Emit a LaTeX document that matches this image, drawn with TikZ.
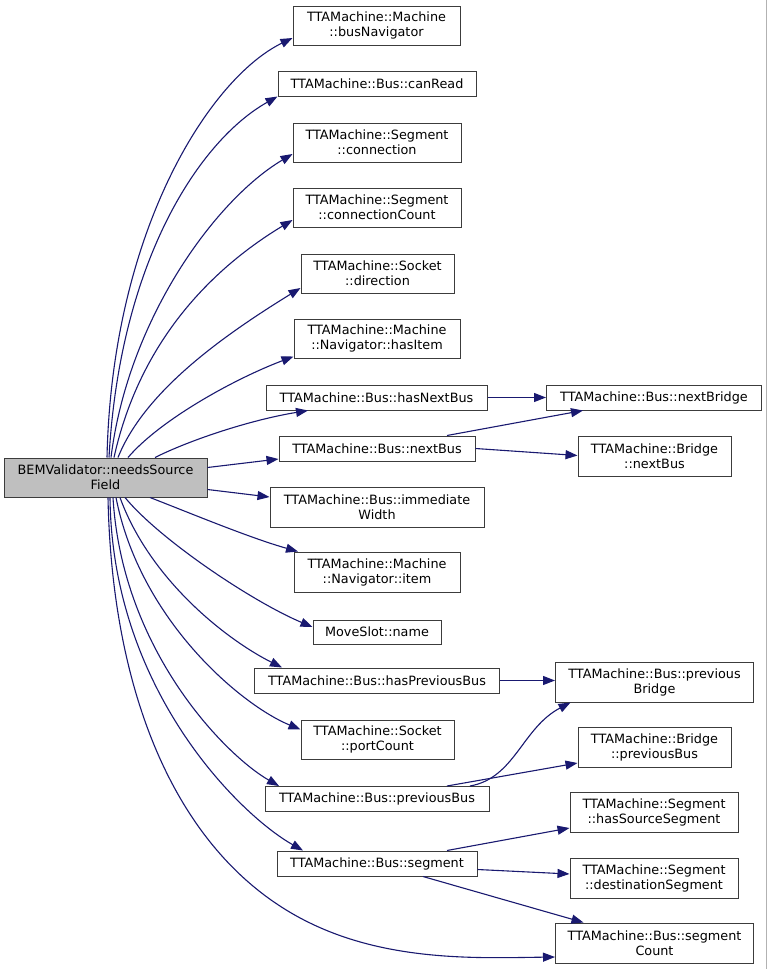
\documentclass[tikz,border=0pt]{standalone}
\usepackage{fontspec}
\setmainfont{DejaVu Sans}
\usetikzlibrary{arrows.meta}
\definecolor{edgeblue}{RGB}{25,25,112}
\definecolor{boxline}{RGB}{60,60,60}
\definecolor{mainfill}{RGB}{191,191,191}
\begin{document}
\begin{tikzpicture}[x=1pt,y=-1pt,
  box/.style={draw=boxline, line width=1pt, fill=white, inner sep=0pt, align=center,
    font=\fontsize{12.8}{15}\selectfont},
  mainbox/.style={box, fill=mainfill},
  edge/.style={draw=edgeblue, line width=1.1pt, -{Triangle[length=12pt,width=9pt]}}
]
\useasboundingbox (0,0) rectangle (767,969);
\fill[white] (0,0) rectangle (767,969);
\draw[black!30, line width=1pt] (766,0) -- (766,969);

% nodes
\node[mainbox, minimum width=203pt, minimum height=39pt] (main) at (105.5,477.5) {BEMValidator::needsSource\\Field};
\node[box, minimum width=167pt, minimum height=39pt] (busNav) at (376.5,25.5) {TTAMachine::Machine\\::busNavigator};
\node[box, minimum width=198pt, minimum height=25pt] (canRead) at (377,83.5) {TTAMachine::Bus::canRead};
\node[box, minimum width=168pt, minimum height=39pt] (conn) at (377,142.5) {TTAMachine::Segment\\::connection};
\node[box, minimum width=168pt, minimum height=39pt] (connCount) at (377,207.5) {TTAMachine::Segment\\::connectionCount};
\node[box, minimum width=153pt, minimum height=39pt] (dir) at (377.5,273.5) {TTAMachine::Socket\\::direction};
\node[box, minimum width=166pt, minimum height=39pt] (hasItem) at (377,338.5) {TTAMachine::Machine\\::Navigator::hasItem};
\node[box, minimum width=221pt, minimum height=25pt] (hasNextBus) at (376.5,397.5) {TTAMachine::Bus::hasNextBus};
\node[box, minimum width=196pt, minimum height=25pt] (nextBus) at (377,448.5) {TTAMachine::Bus::nextBus};
\node[box, minimum width=214pt, minimum height=40pt] (immW) at (377,507) {TTAMachine::Bus::immediate\\Width};
\node[box, minimum width=166pt, minimum height=40pt] (navItem) at (377,572) {TTAMachine::Machine\\::Navigator::item};
\node[box, minimum width=128pt, minimum height=24pt] (moveName) at (377,632) {MoveSlot::name};
\node[box, minimum width=245pt, minimum height=25pt] (hasPrevBus) at (377,680.5) {TTAMachine::Bus::hasPreviousBus};
\node[box, minimum width=153pt, minimum height=39pt] (portCount) at (377.5,739.5) {TTAMachine::Socket\\::portCount};
\node[box, minimum width=224pt, minimum height=25pt] (prevBus) at (377,799) {TTAMachine::Bus::previousBus};
\node[box, minimum width=200pt, minimum height=25pt] (segment) at (377,863.5) {TTAMachine::Bus::segment};

\node[box, minimum width=215pt, minimum height=25pt] (nextBridge) at (654,397.5) {TTAMachine::Bus::nextBridge};
\node[box, minimum width=153pt, minimum height=40pt] (brNextBus) at (654.5,456.5) {TTAMachine::Bridge\\::nextBus};
\node[box, minimum width=198pt, minimum height=40pt] (prevBridge) at (654.5,682) {TTAMachine::Bus::previous\\Bridge};
\node[box, minimum width=153pt, minimum height=40pt] (brPrevBus) at (654.5,747) {TTAMachine::Bridge\\::previousBus};
\node[box, minimum width=168pt, minimum height=40pt] (hasSrcSeg) at (654,812) {TTAMachine::Segment\\::hasSourceSegment};
\node[box, minimum width=168pt, minimum height=40pt] (destSeg) at (654,878) {TTAMachine::Segment\\::destinationSegment};
\node[box, minimum width=198pt, minimum height=40pt] (segCount) at (654.5,943) {TTAMachine::Bus::segment\\Count};

% edges from main, upper
\draw[edge] ([xshift=1.5pt]main.north) .. controls (112,230) and (210,78) .. ([yshift=-12.5pt]busNav.west);
\draw[edge] ([xshift=3.5pt]main.north) .. controls (120,260) and (200,140) .. (canRead.south west);
\draw[edge] ([xshift=5.5pt]main.north) .. controls (128,320) and (215,200) .. ([yshift=-11.5pt]conn.west);
\draw[edge] ([xshift=8.5pt]main.north) .. controls (140,340) and (213,268) .. ([yshift=-12.5pt]connCount.west);
\draw[edge] ([xshift=12.5pt]main.north) .. controls (145,390) and (226,334) .. ([yshift=-14.5pt]dir.west);
\draw[edge] ([xshift=22.5pt]main.north) .. controls (160,420) and (234,379) .. ([yshift=-18pt]hasItem.west);
\draw[edge] ([xshift=49.5pt]main.north) .. controls (190,440) and (250,420) .. ([xshift=-68.5pt]hasNextBus.south);
\draw[edge] ([yshift=10pt]main.east) -- ([yshift=-10.5pt]nextBus.west);
\draw[edge] ([yshift=-12pt]main.east) -- ([yshift=10pt]immW.west);

% edges from main, lower
\draw[edge] ([xshift=44.5pt]main.south) .. controls (190,513) and (250,538) .. ([xshift=-79pt]navItem.north);
\draw[edge] ([xshift=19.5pt]main.south) .. controls (160,540) and (253,602) .. ([yshift=5pt]moveName.west);
\draw[edge] ([xshift=14.5pt]main.south) .. controls (150,580) and (227,640) .. ([xshift=-95pt]hasPrevBus.north);
\draw[edge] ([xshift=10.5pt]main.south) .. controls (140,620) and (241,705) .. ([yshift=10pt]portCount.west);
\draw[edge] ([xshift=7.5pt]main.south) .. controls (122,650) and (225,755) .. ([xshift=-98pt]prevBus.north);
\draw[edge] ([xshift=4.5pt]main.south) .. controls (112,690) and (240,815) .. ([xshift=-74pt]segment.north);
\draw[edge] ([xshift=2.5pt]main.south) .. controls (112,700) and (180,860) .. (310,923) .. controls (390,962) and (480,958) .. ([yshift=-14pt]segCount.west);

% right side edges
\draw[edge] (hasNextBus.east) -- (nextBridge.west);
\draw[edge] ([xshift=70pt]nextBus.north) -- ([xshift=-71pt]nextBridge.south);
\draw[edge] (nextBus.east) -- ([yshift=1pt]brNextBus.west);
\draw[edge] (hasPrevBus.east) -- ([yshift=1.5pt]prevBridge.west);
\draw[edge] ([xshift=93pt]prevBus.north) .. controls (515,778) and (522,728) .. ([xshift=-84pt]prevBridge.south);
\draw[edge] ([xshift=70pt]prevBus.north) -- ([yshift=-16pt]brPrevBus.west);
\draw[edge] ([xshift=70pt]segment.north) -- ([yshift=-16pt]hasSrcSeg.west);
\draw[edge] ([yshift=-6pt]segment.east) -- ([yshift=4pt]destSeg.west);
\draw[edge] ([xshift=46pt]segment.south) -- ([xshift=-71pt]segCount.north);
\end{tikzpicture}
\end{document}
